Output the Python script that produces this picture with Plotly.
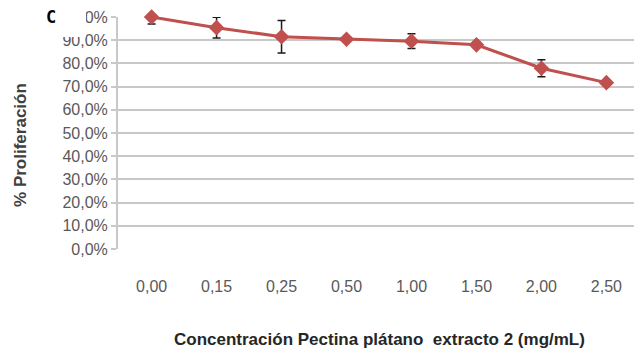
import plotly.graph_objects as go

categories = ["0,00", "0,15", "0,25", "0,50", "1,00", "1,50", "2,00", "2,50"]
proliferation = [1.000, 0.954, 0.915, 0.904, 0.896, 0.880, 0.779, 0.717]
error = [0.030, 0.045, 0.070, 0.008, 0.032, 0.012, 0.037, 0.008]
y_ticks = [0, 0.1, 0.2, 0.3, 0.4, 0.5, 0.6, 0.7, 0.8, 0.9, 1.0]

FONT = "Liberation Sans, Arial"

fig = go.Figure()
fig.add_trace(go.Scatter(
    x=categories, y=proliferation, mode="lines+markers",
    line=dict(color="#c0504d", width=3),
    marker=dict(symbol="diamond", size=12, color="#c0504d"),
    error_y=dict(type="data", array=error, visible=True, color="#1a1a1a",
                 thickness=1.5, width=4),
    cliponaxis=False, showlegend=False,
))

fig.update_layout(
    width=634, height=352,
    margin=dict(l=110, r=2, t=9, b=111),
    paper_bgcolor="white", plot_bgcolor="white",
    separators=",.",
    font=dict(family=FONT, size=16, color="#595959"),
    xaxis=dict(type="category", showgrid=False, showline=False, zeroline=False,
               ticks="", ticklabelstandoff=26,
               tickfont=dict(family=FONT, size=16, color="#595959")),
    yaxis=dict(range=[0, 1.0], tickvals=y_ticks, tickformat=".1%",
               showgrid=True, gridcolor="#c8c8c8", gridwidth=2,
               showline=True, linecolor="#c8c8c8", linewidth=2,
               ticks="outside", ticklen=5, tickcolor="#c8c8c8", tickwidth=2,
               zeroline=False, automargin=False,
               tickfont=dict(family=FONT, size=16, color="#595959")),
    annotations=[
        dict(text="<b>Concentración Pectina plátano  extracto 2 (mg/mL)</b>",
             xref="paper", yref="paper", x=0.5, y=-0.392, showarrow=False,
             xanchor="center", yanchor="middle",
             font=dict(family=FONT, size=17, color="#262626")),
        dict(text="<b>% Proliferación</b>", textangle=-90,
             xref="paper", yref="paper", x=-0.188, y=0.448, showarrow=False,
             xanchor="center", yanchor="middle",
             font=dict(family=FONT, size=17, color="#404040")),
        dict(text="<b>C</b>", xref="paper", yref="paper", x=-0.128, y=1.0,
             showarrow=False, xanchor="center", yanchor="middle",
             font=dict(family="DejaVu Sans Mono", size=17, color="black")),
    ],
    shapes=[
        dict(type="rect", xref="paper", yref="paper",
             x0=-0.17, x1=-0.0613, y0=0.914, y1=1.05,
             fillcolor="white", line=dict(width=0), layer="above"),
    ],
)
fig.write_html("out.html")
